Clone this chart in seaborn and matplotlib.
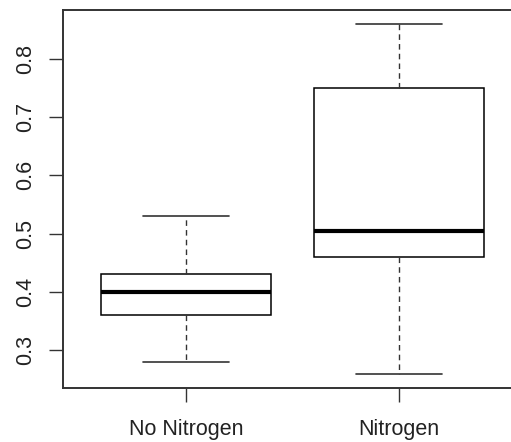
import numpy as np
import pandas as pd
import matplotlib
matplotlib.use("Agg")
import matplotlib.pyplot as plt
import seaborn as sns

# five-number summaries (min, Q1, median, Q3, max)
groups = ["No Nitrogen", "Nitrogen"]
no_nitrogen = [0.28, 0.36, 0.40, 0.43, 0.53]
nitrogen = [0.26, 0.46, 0.505, 0.75, 0.86]
yticks = [0.3, 0.4, 0.5, 0.6, 0.7, 0.8]

df = pd.DataFrame({
    "group": [groups[0]] * len(no_nitrogen) + [groups[1]] * len(nitrogen),
    "value": no_nitrogen + nitrogen,
})

sns.set_style("white")
plt.rcParams["font.family"] = ["Liberation Sans", "DejaVu Sans"]

fig = plt.figure(figsize=(5.11, 4.42), dpi=100)
# right edge of the frame falls outside the picture, like the original crop
ax = fig.add_axes([62.5 / 511, 54 / 442, 460 / 511, 378.5 / 442])

sns.boxplot(data=df, x="group", y="value", order=groups, ax=ax,
            whis=(0, 100), width=0.8, color="white", linecolor="black",
            linewidth=1.1, showfliers=False,
            medianprops=dict(color="black", linewidth=3),
            whiskerprops=dict(color="#333333", linewidth=1, linestyle=(0, (4, 3))),
            capprops=dict(color="#333333", linewidth=1.2))

ax.set_xlim(-0.58, 1.58)
ax.set_ylim(0.2353, 0.8844)
ax.set_yticks(yticks)
ax.set_yticklabels([f"{t:.1f}" for t in yticks], rotation=90, va="center")
ax.set_xlabel("")
ax.set_ylabel("")

for side in ["left", "bottom", "top", "right"]:
    ax.spines[side].set_visible(True)
    ax.spines[side].set_color("#333333")
    ax.spines[side].set_linewidth(1.4)

ax.tick_params(axis="both", direction="out", length=10, width=1,
               color="#333333", labelsize=15.5, labelcolor="#222222",
               left=True, bottom=True)
ax.tick_params(axis="y", pad=9)
ax.tick_params(axis="x", pad=12.5)

fig.savefig("out.png", dpi=100)
